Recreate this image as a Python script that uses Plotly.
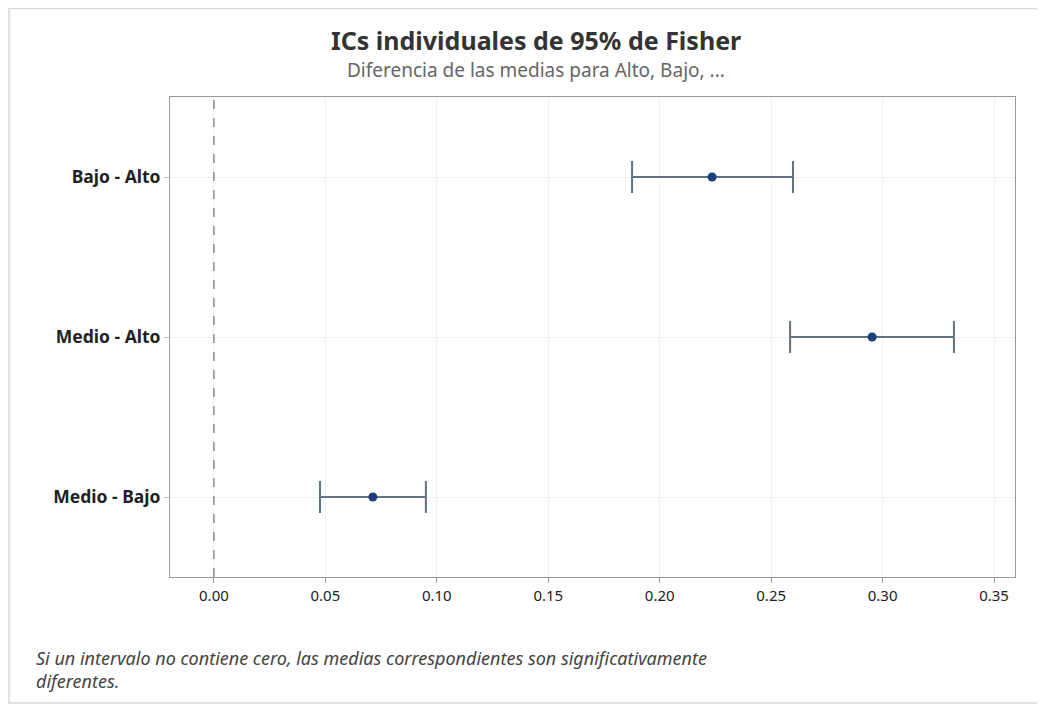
import plotly.graph_objects as go

# Fisher individual 95% CIs, difference of means
comparisons = ["Bajo - Alto", "Medio - Alto", "Medio - Bajo"]
diff = [0.2235, 0.2953, 0.0713]
lower = [0.1876, 0.2585, 0.0476]
upper = [0.2598, 0.3320, 0.0951]

err_plus = [u - d for u, d in zip(upper, diff)]
err_minus = [d - l for d, l in zip(diff, lower)]

font = "Noto Sans, Open Sans, sans-serif"

fig = go.Figure()
fig.add_trace(go.Scatter(
    x=diff, y=comparisons, mode="markers",
    marker=dict(size=9, color="#1d3e77"),
    error_x=dict(type="data", symmetric=False, array=err_plus, arrayminus=err_minus,
                 color="#5f7384", thickness=2, width=16),
    showlegend=False, hoverinfo="x+y",
))

# reference line at zero
fig.add_shape(type="line", x0=0, x1=0, xref="x", y0=0, y1=1, yref="paper",
              line=dict(color="#6a8a66", width=1.3, dash="dash"))

# outer frame
fig.add_shape(type="rect", xref="paper", yref="paper",
              x0=-0.1905, x1=1.2, y0=-0.2625, y1=1.1844,
              line=dict(color="#d9d9d9", width=1.5), layer="below")

fig.update_layout(
    width=1037, height=696,
    margin=dict(l=162, r=30, t=89, b=127),
    plot_bgcolor="white", paper_bgcolor="white",
    font=dict(family=font, size=15, color="#222222"),
    xaxis=dict(
        range=[-0.0197, 0.3594], tickvals=[0, 0.05, 0.10, 0.15, 0.20, 0.25, 0.30, 0.35],
        tickformat=".2f", showgrid=True, gridcolor="#f1f1f1", zeroline=False,
        showline=True, linecolor="#9a9a9a", mirror=True, linewidth=1,
        ticks="outside", ticklen=5, tickcolor="#9a9a9a",
        tickfont=dict(size=15, color="#222222"),
    ),
    yaxis=dict(
        categoryorder="array", categoryarray=comparisons[::-1],
        range=[-0.5, 2.5], showgrid=True, gridcolor="#f1f1f1", zeroline=False,
        showline=True, linecolor="#9a9a9a", mirror=True, linewidth=1,
        ticks="outside", ticklen=5, tickcolor="#bbbbbb",
        tickfont=dict(size=17.5, color="#222222", weight="bold"),
    ),
    annotations=[
        dict(text="<b>ICs individuales de 95% de Fisher</b>",
             xref="paper", yref="paper", x=0.433, y=1.119, xanchor="center", yanchor="middle",
             showarrow=False, font=dict(size=25, color="#333333")),
        dict(text="Diferencia de las medias para Alto, Bajo, ...",
             xref="paper", yref="paper", x=0.433, y=1.056, xanchor="center", yanchor="middle",
             showarrow=False, font=dict(size=19, color="#666666")),
        dict(text="<i>Si un intervalo no contiene cero, las medias correspondientes son significativamente<br>diferentes.</i>",
             xref="paper", yref="paper", x=-0.1615, y=-0.14, xanchor="left", yanchor="top",
             align="left", showarrow=False, font=dict(size=18, color="#444444")),
    ],
)

fig.write_html("out.html")
